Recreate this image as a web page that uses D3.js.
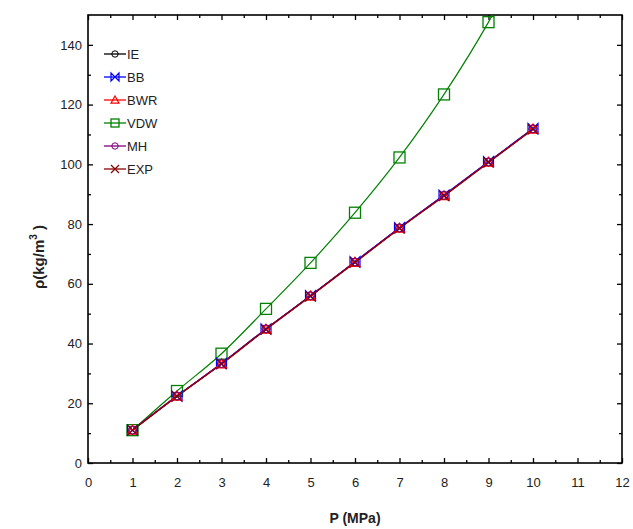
<!DOCTYPE html>
<html><head><meta charset="utf-8">
<script src="https://cdn.jsdelivr.net/npm/d3@7"></script>
<style>body{margin:0;background:#fff}svg{display:block}text{font-family:Arial,"Liberation Sans",sans-serif}</style>
</head><body><svg id="c" width="633" height="529"></svg>
<script>
const pressures = [1,2,3,4,5,6,7,8,9,10];
const seriesNames = ["IE","BB","BWR","VDW","MH","EXP"];
const ieValues  = [11.0,22.4,33.3,44.9,56.0,67.3,78.7,89.6,100.8,111.9];
const bbValues  = [11.0,22.4,33.3,44.9,56.0,67.4,78.8,89.7,100.9,112.0];
const bwrValues = [11.0,22.4,33.2,44.8,55.9,67.2,78.6,89.5,100.7,111.8];
const vdwValues = [11.0,24.1,36.6,51.6,67.0,83.8,102.3,123.4,147.6,176.0];
const mhValues  = [11.0,22.4,33.3,44.9,56.0,67.3,78.7,89.6,100.8,111.9];
const expValues = [11.0,22.3,33.1,44.7,55.8,67.1,78.5,89.4,100.6,111.7];
const colors = ["#000000","#0000ff","#ff0000","#008000","#800080","#8b0000"];
const shapes = ["circle","bowtie","triangle","square","circle","x"];
const xTicks = [0,1,2,3,4,5,6,7,8,9,10,11,12];
const yTicks = [0,20,40,60,80,100,120,140];

const allValues = [ieValues,bbValues,bwrValues,vdwValues,mhValues,expValues];
const svg = d3.select("#c");
const L=88, R=622, T=15, B=463;
const x = d3.scaleLinear().domain([0,12]).range([L,R]);
const y = d3.scaleLinear().domain([0,150]).range([B,T]);

svg.append("defs").append("clipPath").attr("id","clip").append("rect")
  .attr("x",L).attr("y",T).attr("width",R-L).attr("height",B-T);

const tickFmt = d3.format("d");
const gx = svg.append("g").attr("transform",`translate(0,${B})`)
  .call(d3.axisBottom(x).tickValues(xTicks).tickSize(-5).tickPadding(15).tickFormat(tickFmt));
const gy = svg.append("g").attr("transform",`translate(${L},0)`)
  .call(d3.axisLeft(y).tickValues(yTicks).tickSize(-5).tickPadding(6).tickFormat(tickFmt));
svg.append("g").attr("transform",`translate(0,${T})`)
  .call(d3.axisTop(x).tickValues(xTicks).tickSize(-5).tickFormat(""));
svg.append("g").attr("transform",`translate(${R},0)`)
  .call(d3.axisRight(y).tickValues(yTicks).tickSize(-5).tickFormat(""));
const xMinor = d3.range(0.5,12,1), yMinor = d3.range(10,150,20);
svg.append("g").attr("transform",`translate(0,${B})`).call(d3.axisBottom(x).tickValues(xMinor).tickSize(-3).tickFormat(""));
svg.append("g").attr("transform",`translate(0,${T})`).call(d3.axisTop(x).tickValues(xMinor).tickSize(-3).tickFormat(""));
svg.append("g").attr("transform",`translate(${L},0)`).call(d3.axisLeft(y).tickValues(yMinor).tickSize(-3).tickFormat(""));
svg.append("g").attr("transform",`translate(${R},0)`).call(d3.axisRight(y).tickValues(yMinor).tickSize(-3).tickFormat(""));
svg.selectAll(".domain").remove();
svg.selectAll(".tick line").attr("stroke","#000").attr("stroke-width",1.3);
svg.selectAll(".tick text").attr("font-size",13).attr("fill","#222");
svg.append("rect").attr("x",L).attr("y",T).attr("width",R-L).attr("height",B-T)
  .attr("fill","none").attr("stroke","#000").attr("stroke-width",1.6);

function marker(g, shape, color, cx, cy, s){
  const h=s/2;
  if(shape==="circle") g.append("circle").attr("cx",cx).attr("cy",cy).attr("r",h*0.8).attr("fill","none").attr("stroke",color).attr("stroke-width",1);
  else if(shape==="square") g.append("rect").attr("x",cx-h).attr("y",cy-h).attr("width",s).attr("height",s).attr("fill","none").attr("stroke",color).attr("stroke-width",1.3);
  else if(shape==="triangle") g.append("path").attr("d",`M${cx},${cy-h}L${cx+h},${cy+h*0.8}L${cx-h},${cy+h*0.8}Z`).attr("fill","none").attr("stroke",color).attr("stroke-width",1.2);
  else if(shape==="bowtie") g.append("path").attr("d",`M${cx-h},${cy-h}L${cx},${cy}L${cx-h},${cy+h}ZM${cx+h},${cy-h}L${cx},${cy}L${cx+h},${cy+h}Z`).attr("fill","none").attr("stroke",color).attr("stroke-width",1.2);
  else if(shape==="x") g.append("path").attr("d",`M${cx-h},${cy-h}L${cx+h},${cy+h}M${cx+h},${cy-h}L${cx-h},${cy+h}`).attr("fill","none").attr("stroke",color).attr("stroke-width",1.2);
}

const plot = svg.append("g").attr("clip-path","url(#clip)");
const line = d3.line().x((d,i)=>x(pressures[i])).y(d=>y(d)).curve(d3.curveMonotoneX);
const order = [3,0,1,2,4,5];
order.forEach(k=>{
  plot.append("path").datum(allValues[k]).attr("d",line).attr("fill","none")
    .attr("stroke",colors[k]).attr("stroke-width",1.2);
});
order.forEach(k=>{
  const g = plot.append("g");
  allValues[k].forEach((v,i)=>{ if(v<=150) marker(g,shapes[k],colors[k],x(pressures[i]),y(v), k===3?11:10); });
});

const lg = svg.append("g");
seriesNames.forEach((n,k)=>{
  const ly = 54 + k*23;
  lg.append("line").attr("x1",104).attr("x2",126).attr("y1",ly).attr("y2",ly).attr("stroke",colors[k]).attr("stroke-width",1.3);
  marker(lg,shapes[k],colors[k],115,ly,8);
  lg.append("text").attr("x",127).attr("y",ly).attr("dy","0.36em").attr("font-size",13).attr("fill","#222").text(n);
});

svg.append("text").attr("x",(L+R)/2).attr("y",523).attr("text-anchor","middle")
  .attr("font-size",14).attr("font-weight","bold").attr("fill","#222").text("P (MPa)");
const yt = svg.append("text").attr("transform",`translate(44,257) rotate(-90)`).attr("text-anchor","middle")
  .attr("font-size",15).attr("font-weight","bold").attr("fill","#222");
yt.append("tspan").text("ρ(kg/m");
yt.append("tspan").attr("dy",-7).attr("font-size",10).text("3");
yt.append("tspan").attr("dy",7).text(" )");
</script></body></html>
